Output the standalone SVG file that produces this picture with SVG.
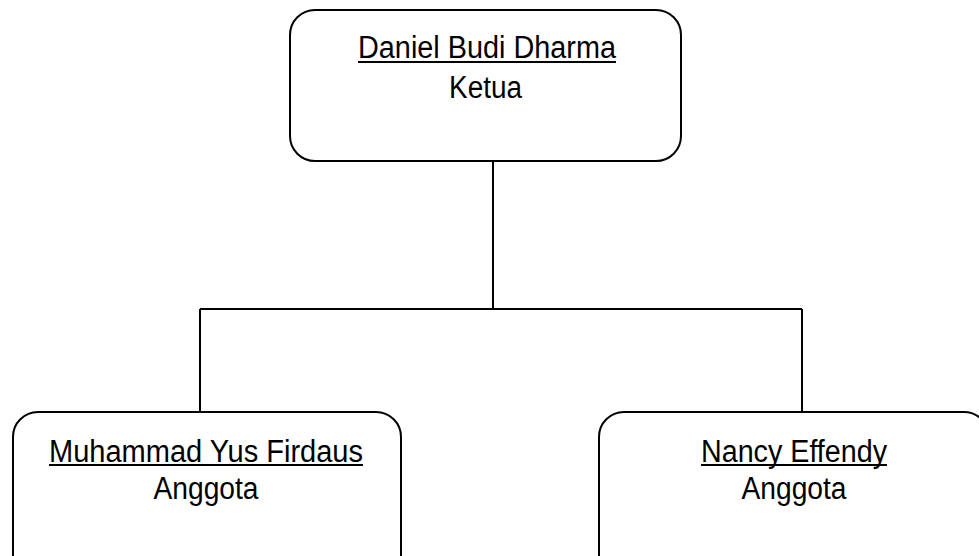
<svg xmlns="http://www.w3.org/2000/svg" width="979" height="556" viewBox="0 0 979 556">
<style>
.box{fill:#fff;stroke:#000;stroke-width:2}
.conn{fill:none;stroke:#000;stroke-width:2}
.t{font-family:"Liberation Sans",Arial,sans-serif;font-size:31px;fill:#000;text-anchor:middle}
.ul{stroke:#000;stroke-width:2.2}
</style>
<rect width="979" height="556" fill="#fff"/>
<g id="connectors">
<path class="conn" d="M493,161 V309"/>
<path class="conn" d="M200,309 H802"/>
<path class="conn" d="M200,309 V412"/>
<path class="conn" d="M802,309 V412"/>
</g>
<g id="ketua">
<rect class="box" x="290" y="10" width="391" height="151" rx="25" ry="25"/>
<text class="t" x="487" y="58" textLength="258" lengthAdjust="spacingAndGlyphs">Daniel Budi Dharma</text>
<line class="ul" x1="358" y1="62" x2="616" y2="62"/>
<text class="t" x="485.5" y="98" textLength="73" lengthAdjust="spacingAndGlyphs">Ketua</text>
</g>
<g id="anggota1">
<rect class="box" x="13" y="412" width="388" height="170" rx="25" ry="25"/>
<text class="t" x="206" y="462" textLength="314" lengthAdjust="spacingAndGlyphs">Muhammad Yus Firdaus</text>
<line class="ul" x1="49" y1="465" x2="363" y2="465"/>
<text class="t" x="206" y="499" textLength="105" lengthAdjust="spacingAndGlyphs">Anggota</text>
</g>
<g id="anggota2">
<rect class="box" x="599" y="412" width="390" height="170" rx="25" ry="25"/>
<text class="t" x="794" y="462" textLength="186" lengthAdjust="spacingAndGlyphs">Nancy Effendy</text>
<line class="ul" x1="701" y1="465" x2="887" y2="465"/>
<text class="t" x="794" y="499" textLength="105" lengthAdjust="spacingAndGlyphs">Anggota</text>
</g>
</svg>
